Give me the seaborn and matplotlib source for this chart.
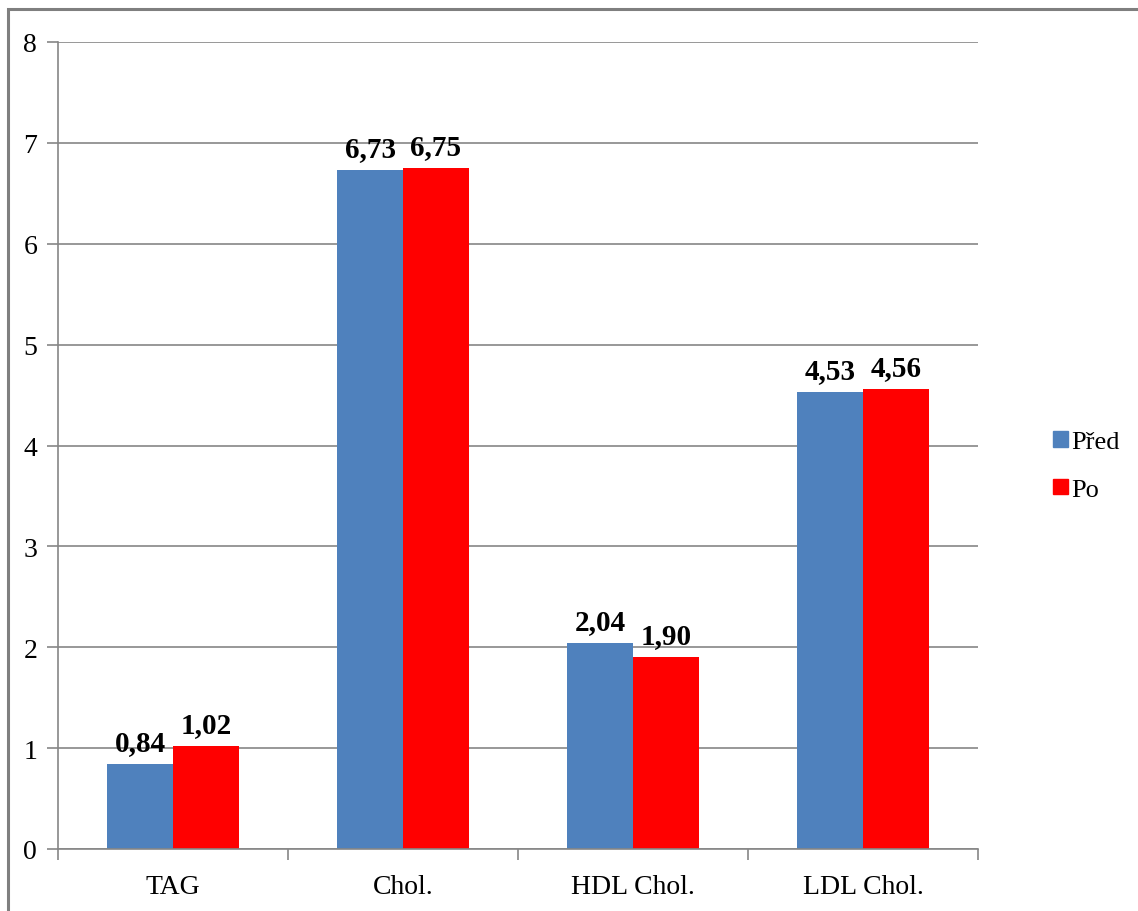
import matplotlib
matplotlib.use("Agg")
import matplotlib.pyplot as plt
import matplotlib.patches as mpatches
from matplotlib.ticker import FixedLocator
import seaborn as sns
import pandas as pd

categories = ["TAG", "Chol.", "HDL Chol.", "LDL Chol."]
series_names = ["Před", "Po"]
pred_values = [0.84, 6.73, 2.04, 4.53]
po_values = [1.02, 6.75, 1.90, 4.56]
y_ticks = [0, 1, 2, 3, 4, 5, 6, 7, 8]

colors = {"Před": "#4F81BD", "Po": "#FF0000"}
grid_color = "#868686"

sns.set_theme(style="white")
plt.rcParams["font.family"] = ["Liberation Serif", "DejaVu Serif"]
plt.rcParams["text.color"] = "black"
plt.rcParams["xtick.labelcolor"] = "black"
plt.rcParams["ytick.labelcolor"] = "black"

df = pd.DataFrame({
    "kategorie": categories * 2,
    "skupina": [series_names[0]] * len(categories) + [series_names[1]] * len(categories),
    "hodnota": pred_values + po_values,
})

fig = plt.figure(figsize=(11.38, 9.12), dpi=100)
ax = fig.add_axes([58 / 1138, 62 / 912, 920 / 1138, 807 / 912])

sns.barplot(data=df, x="kategorie", y="hodnota", hue="skupina",
            order=categories, hue_order=series_names, palette=colors,
            width=0.57, saturation=1, linewidth=0, errorbar=None, ax=ax,
            legend=False)

ax.set_xlim(-0.5, len(categories) - 0.5)
ax.set_ylim(y_ticks[0], y_ticks[-1])
ax.set_yticks(y_ticks)
ax.set_yticklabels([str(t) for t in y_ticks], fontsize=20)
ax.set_xlabel("")
ax.set_ylabel("")
ax.set_xticks(range(len(categories)))
ax.set_xticklabels(categories, fontsize=20)
ax.xaxis.set_minor_locator(FixedLocator([i - 0.5 for i in range(len(categories) + 1)]))
ax.tick_params(axis="x", which="major", length=0, pad=18, labelcolor="black")
ax.tick_params(axis="x", which="minor", length=8, width=1.2, color=grid_color, bottom=True)
ax.tick_params(axis="y", which="major", length=8, width=1.2, color=grid_color, left=True,
               pad=7, labelcolor="black")

ax.yaxis.grid(True, color=grid_color, linewidth=1.2)
ax.set_axisbelow(True)
for side in ["top", "right"]:
    ax.spines[side].set_visible(False)
for side in ["left", "bottom"]:
    ax.spines[side].set_color(grid_color)
    ax.spines[side].set_linewidth(1.2)

for container in ax.containers:
    labels = [f"{v:.2f}".replace(".", ",") for v in container.datavalues]
    ax.bar_label(container, labels=labels, padding=6, fontsize=21, fontweight="bold",
                 color="black")

handles = [mpatches.Patch(color=colors[s], label=s) for s in series_names]
fig.legend(handles=handles, loc="center left", bbox_to_anchor=(1053 / 1138, 1 - 467 / 912),
           frameon=False, fontsize=19, handlelength=0.55, handleheight=0.55,
           handletextpad=0.15, labelspacing=0.95, borderaxespad=0, borderpad=0)

# outer frame of the chart area
fig.patches.append(mpatches.Rectangle((8 / 1138, -0.05), 1.2, 1 - 10 / 912 + 0.05,
                                      transform=fig.transFigure, fill=False,
                                      edgecolor="#7F7F7F", linewidth=2.2))

fig.savefig("out.png", dpi=100, facecolor="white")
